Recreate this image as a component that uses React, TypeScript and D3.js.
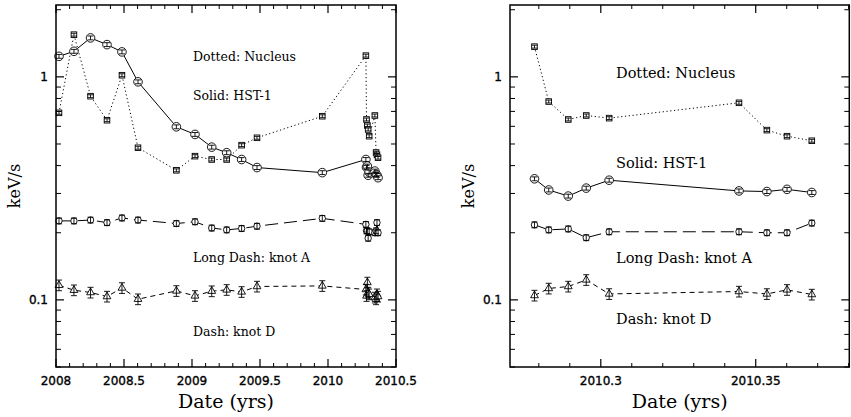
import React from 'react';
import * as d3 from 'd3';

// observation dates (decimal years)
const earlyTimes = [2008.022, 2008.132, 2008.254, 2008.375, 2008.485, 2008.603, 2008.885, 2009.022, 2009.145, 2009.255, 2009.365, 2009.478, 2009.958];
const lateTimes = [2010.2786, 2010.2832, 2010.2895, 2010.2953, 2010.3027, 2010.3446, 2010.3536, 2010.3601, 2010.3681];
const leftTimes = earlyTimes.concat(lateTimes);

// left panel (full monitoring campaign)
const leftNucleus = [0.690, 1.546, 0.819, 0.639, 1.017, 0.481, 0.381, 0.441, 0.426, 0.426, 0.494, 0.533, 0.666, 1.245, 0.644, 0.605, 0.581, 0.542, 0.671, 0.458, 0.447, 0.434];
const leftHst1 = [1.236, 1.302, 1.495, 1.395, 1.294, 0.950, 0.597, 0.552, 0.484, 0.457, 0.426, 0.392, 0.372, 0.426, 0.393, 0.398, 0.362, 0.374, 0.378, 0.365, 0.362, 0.353];
const leftKnotA = [0.226, 0.226, 0.228, 0.222, 0.233, 0.228, 0.220, 0.224, 0.210, 0.206, 0.209, 0.214, 0.232, 0.218, 0.204, 0.204, 0.189, 0.202, 0.200, 0.204, 0.222, 0.200];
const leftKnotD = [0.1163, 0.1105, 0.1079, 0.1035, 0.1131, 0.1007, 0.1097, 0.1042, 0.1094, 0.1109, 0.1086, 0.1148, 0.1155, 0.1113, 0.1042, 0.1197, 0.1079, 0.1060, 0.1025, 0.1007, 0.1060, 0.1035];

// right panel (2010 flare zoom)
const rightNucleus = [1.366, 0.775, 0.644, 0.671, 0.653, 0.765, 0.577, 0.542, 0.517];
const rightHst1 = [0.349, 0.311, 0.292, 0.317, 0.344, 0.308, 0.306, 0.313, 0.303];
const rightKnotA = [0.217, 0.206, 0.208, 0.190, 0.202, 0.202, 0.200, 0.200, 0.221];
const rightKnotD = [0.1046, 0.1125, 0.1148, 0.1229, 0.1063, 0.1090, 0.1063, 0.1109, 0.1057];

// relative error bar half-sizes
const errNucleus = 0.015;
const errHst1 = 0.02;
const errKnotA = 0.03;
const errKnotD = 0.055;

const leftMajor = [2008, 2008.5, 2009, 2009.5, 2010, 2010.5];
const leftMajorLabels = ['2008', '2008.5', '2009', '2009.5', '2010', '2010.5'];
const rightMajor = [2010.3, 2010.35];
const rightMajorLabels = ['2010.3', '2010.35'];
const yMajor = [0.1, 1];
const yMajorLabels = ['0.1', '1'];

const labelTexts = ['Dotted: Nucleus', 'Solid: HST-1', 'Long Dash: knot A', 'Dash: knot D'];

const TOP = 5;
const BOTTOM = 367;

const yScale = d3.scaleLog().domain([0.05, 2.1]).range([BOTTOM, TOP]);

type Series = {
  values: number[];
  times: number[];
  dash: string;
  marker: 'square' | 'bigCircle' | 'circle' | 'triangle';
  err: number;
};

function Marker({ kind, cx, cy }: { kind: string; cx: number; cy: number }) {
  const common = { fill: 'white', stroke: 'black', strokeWidth: 0.9 };
  if (kind === 'square') return <rect x={cx - 2.8} y={cy - 2.8} width={5.6} height={5.6} {...common} />;
  if (kind === 'bigCircle') return <circle cx={cx} cy={cy} r={4.3} {...common} />;
  if (kind === 'circle') return <circle cx={cx} cy={cy} r={3.2} {...common} />;
  const tri = d3.symbol().type(d3.symbolTriangle).size(26)();
  return <path d={tri || ''} transform={`translate(${cx},${cy})`} {...common} />;
}

function Panel(props: {
  x0: number;
  x1: number;
  domain: [number, number];
  major: number[];
  majorLabels: string[];
  minorStep: number;
  series: Series[];
  labelX: number;
  labelYs: number[];
  labelSize: number;
}) {
  const { x0, x1, domain, major, majorLabels, minorStep, series, labelX, labelYs, labelSize } = props;
  const x = d3.scaleLinear().domain(domain).range([x0, x1]);
  const minor = d3
    .range(Math.ceil(domain[0] / minorStep - 1e-6), Math.floor(domain[1] / minorStep + 1e-6) + 1)
    .map((i) => i * minorStep)
    .filter((v) => !major.some((m) => Math.abs(m - v) < minorStep / 10));
  const yMinor = yScale.ticks().filter((v) => !yMajor.some((m) => Math.abs(m - v) < 1e-9));

  return (
    <g>
      {series.map((s, si) => {
        const line = d3
          .line<number>()
          .x((_, i) => x(s.times[i]))
          .y((v) => yScale(v));
        return (
          <g key={si}>
            <path d={line(s.values) || ''} fill="none" stroke="black" strokeWidth={1} strokeDasharray={s.dash} />
            {s.values.map((v, i) => (
              <Marker key={'m' + i} kind={s.marker} cx={x(s.times[i])} cy={yScale(v)} />
            ))}
            {s.values.map((v, i) => {
              const cx = x(s.times[i]);
              const ya = yScale(v * (1 + s.err));
              const yb = yScale(v * (1 - s.err));
              return (
                <g key={'e' + i} stroke="black" strokeWidth={0.9}>
                  <line x1={cx} x2={cx} y1={ya} y2={yb} />
                  <line x1={cx - 3} x2={cx + 3} y1={ya} y2={ya} />
                  <line x1={cx - 3} x2={cx + 3} y1={yb} y2={yb} />
                </g>
              );
            })}
          </g>
        );
      })}

      {/* frame */}
      <rect x={x0} y={TOP} width={x1 - x0} height={BOTTOM - TOP} fill="none" stroke="black" strokeWidth={1.5} />

      {/* x ticks */}
      {major.map((v) => (
        <g key={'xM' + v} stroke="black" strokeWidth={1.2}>
          <line x1={x(v)} x2={x(v)} y1={BOTTOM} y2={BOTTOM - 8} />
          <line x1={x(v)} x2={x(v)} y1={TOP} y2={TOP + 8} />
        </g>
      ))}
      {minor.map((v) => (
        <g key={'xm' + v} stroke="black" strokeWidth={1}>
          <line x1={x(v)} x2={x(v)} y1={BOTTOM} y2={BOTTOM - 4} />
          <line x1={x(v)} x2={x(v)} y1={TOP} y2={TOP + 4} />
        </g>
      ))}
      {major.map((v, i) => (
        <text
          key={'xl' + v}
          x={x(v)}
          y={384.5}
          textAnchor="middle"
          fontFamily="DejaVu Sans"
          fontSize={12}
          stroke="black"
          strokeWidth={0.35}
        >
          {majorLabels[i]}
        </text>
      ))}

      {/* y ticks */}
      {yMajor.map((v) => (
        <g key={'yM' + v} stroke="black" strokeWidth={1.2}>
          <line x1={x0} x2={x0 + 8} y1={yScale(v)} y2={yScale(v)} />
          <line x1={x1} x2={x1 - 8} y1={yScale(v)} y2={yScale(v)} />
        </g>
      ))}
      {yMinor.map((v) => (
        <g key={'ym' + v} stroke="black" strokeWidth={1}>
          <line x1={x0} x2={x0 + 5} y1={yScale(v)} y2={yScale(v)} />
          <line x1={x1} x2={x1 - 5} y1={yScale(v)} y2={yScale(v)} />
        </g>
      ))}
      {yMajor.map((v, i) => (
        <text
          key={'yl' + v}
          x={x0 - 8}
          y={yScale(v) + 4.5}
          textAnchor="end"
          fontFamily="DejaVu Sans"
          fontSize={12}
          stroke="black"
          strokeWidth={0.35}
        >
          {yMajorLabels[i]}
        </text>
      ))}

      {/* axis titles */}
      <text
        transform={`translate(${x0 - 36.5},${(TOP + BOTTOM) / 2}) rotate(-90)`}
        textAnchor="middle"
        fontFamily="DejaVu Serif"
        fontSize={16}
      >
        keV/s
      </text>
      <text x={(x0 + x1) / 2} y={408} textAnchor="middle" fontFamily="DejaVu Serif" fontSize={19}>
        Date (yrs)
      </text>

      {/* in-plot labels */}
      {labelTexts.map((t, i) => (
        <text key={t} x={labelX} y={labelYs[i]} fontFamily="DejaVu Serif" fontSize={labelSize}>
          {t}
        </text>
      ))}
    </g>
  );
}

export default function App() {
  const leftSeries: Series[] = [
    { values: leftNucleus, times: leftTimes, dash: '1.2,2.6', marker: 'square', err: errNucleus },
    { values: leftHst1, times: leftTimes, dash: '', marker: 'bigCircle', err: errHst1 },
    { values: leftKnotA, times: leftTimes, dash: '13,6', marker: 'circle', err: errKnotA },
    { values: leftKnotD, times: leftTimes, dash: '5,4', marker: 'triangle', err: errKnotD },
  ];
  const rightSeries: Series[] = [
    { values: rightNucleus, times: lateTimes, dash: '1.2,2.6', marker: 'square', err: errNucleus },
    { values: rightHst1, times: lateTimes, dash: '', marker: 'bigCircle', err: errHst1 },
    { values: rightKnotA, times: lateTimes, dash: '13,6', marker: 'circle', err: errKnotA },
    { values: rightKnotD, times: lateTimes, dash: '5,4', marker: 'triangle', err: errKnotD },
  ];
  return (
    <svg
      width={851}
      height={417}
      style={{ position: 'absolute', left: 0, top: 0, display: 'block', background: 'white' }}
    >
      <rect x={0} y={0} width={851} height={417} fill="white" />
      <Panel
        x0={56}
        x1={396}
        domain={[2008, 2010.5]}
        major={leftMajor}
        majorLabels={leftMajorLabels}
        minorStep={0.1}
        series={leftSeries}
        labelX={193}
        labelYs={[60.5, 99.5, 261.5, 335.5]}
        labelSize={12.5}
      />
      <Panel
        x0={510}
        x1={849.3}
        domain={[2010.2707, 2010.3802]}
        major={rightMajor}
        majorLabels={rightMajorLabels}
        minorStep={0.01}
        series={rightSeries}
        labelX={616}
        labelYs={[78, 168, 262.5, 323.5]}
        labelSize={14.5}
      />
    </svg>
  );
}
